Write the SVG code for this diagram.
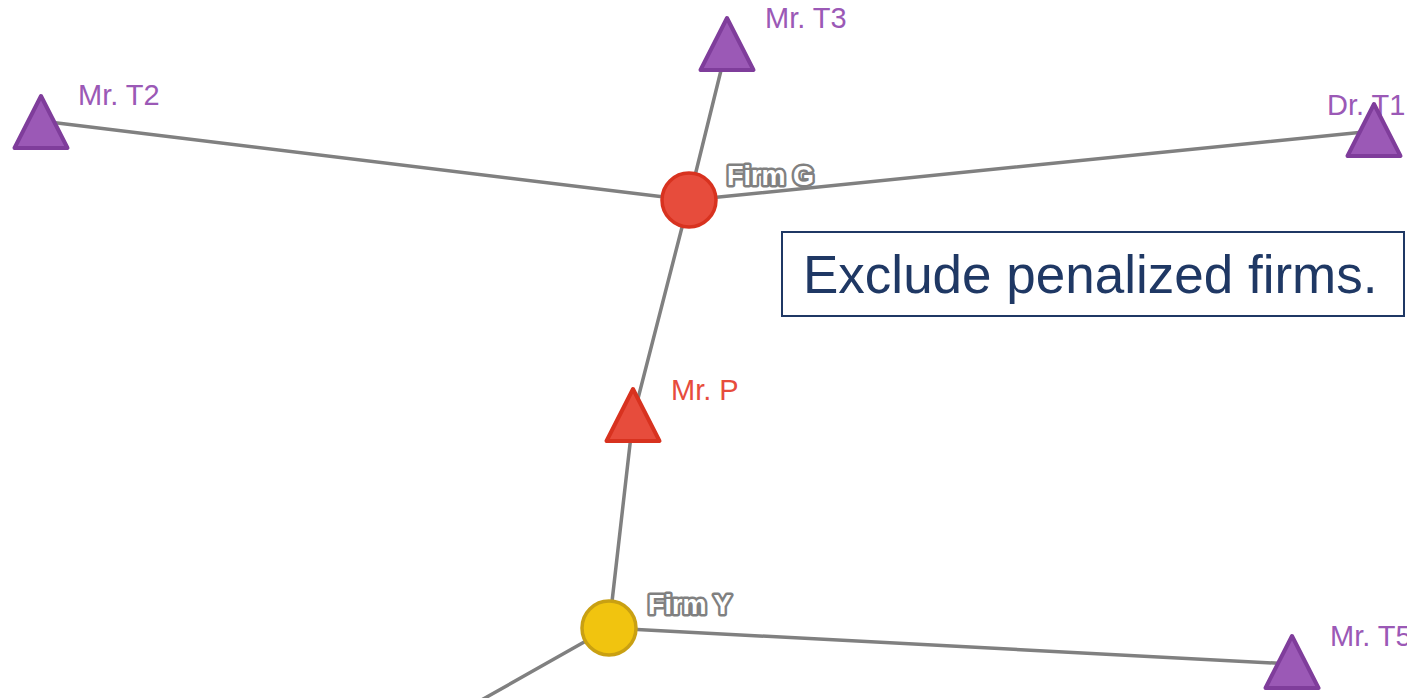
<svg xmlns="http://www.w3.org/2000/svg" width="1407" height="698" viewBox="0 0 1407 698">
<style>
.edge{stroke:#808080;stroke-width:3.5;fill:none;stroke-linecap:round}
.tri{stroke-width:4;stroke-linejoin:round}
.purple{fill:#9b59b6;stroke:#7f3d9b}
.red{fill:#e74c3c;stroke:#d8321f}
.lbl{font-family:"Liberation Sans",Arial,sans-serif;font-size:29px}
.lp{fill:#9b59b6}
.lr{fill:#e74c3c}
.firm{font-family:"Liberation Sans",Arial,sans-serif;font-size:27px;font-weight:bold;fill:#ffffff;stroke:#808080;stroke-width:5;stroke-linejoin:round;paint-order:stroke}
</style>
<defs>
<path id="triangle" d="M0,-28 L26.5,24 L-26.5,24 Z"/>
</defs>
<rect width="1407" height="698" fill="#ffffff"/>
<g id="connectors">
<line class="edge" x1="689" y1="200" x2="41" y2="121"/>
<line class="edge" x1="689" y1="200" x2="727" y2="46"/>
<line class="edge" x1="689" y1="200" x2="1374" y2="131"/>
<line class="edge" x1="689" y1="200" x2="633" y2="418"/>
<line class="edge" x1="633" y1="418" x2="609" y2="628"/>
<line class="edge" x1="609" y1="628" x2="1292" y2="664"/>
<line class="edge" x1="609" y1="628" x2="400" y2="746"/>
</g>
<g id="node-mr-t2">
<text class="lbl lp" x="78" y="105">Mr. T2</text>
<use href="#triangle" class="tri purple" x="41" y="124"/>
</g>
<g id="node-mr-t3">
<text class="lbl lp" x="765" y="28">Mr. T3</text>
<use href="#triangle" class="tri purple" x="727" y="46"/>
</g>
<g id="node-dr-t1">
<text class="lbl lp" x="1327" y="115">Dr. T1</text>
<use href="#triangle" class="tri purple" x="1374" y="132"/>
</g>
<g id="node-mr-p">
<text class="lbl lr" x="671" y="400">Mr. P</text>
<use href="#triangle" class="tri red" x="633" y="417"/>
</g>
<g id="node-mr-t5">
<text class="lbl lp" x="1330" y="646">Mr. T5</text>
<use href="#triangle" class="tri purple" x="1292" y="664"/>
</g>
<g id="node-firm-g">
<circle cx="689" cy="200" r="27" fill="#e74c3c" stroke="#d8321f" stroke-width="3.5"/>
<text class="firm" x="727" y="185">Firm G</text>
</g>
<g id="node-firm-y">
<circle cx="609" cy="628" r="27" fill="#f1c40f" stroke="#c9a012" stroke-width="3.5"/>
<text class="firm" x="648" y="614">Firm Y</text>
</g>
<g id="note">
<rect x="782" y="232" width="622" height="84" fill="#ffffff" stroke="#1f3864" stroke-width="2"/>
<text x="803" y="293" font-family="'Liberation Sans',Arial,sans-serif" font-size="53" fill="#1f3864">Exclude penalized firms.</text>
</g>
</svg>
